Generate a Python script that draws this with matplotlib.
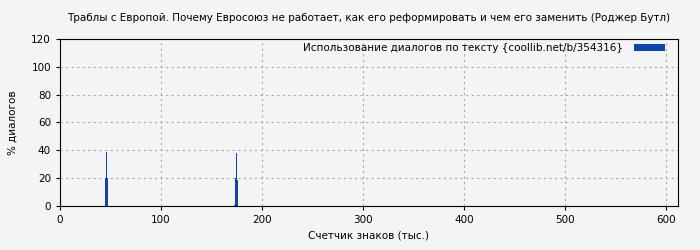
import matplotlib.pyplot as plt

# thousands of characters -> % of dialogue
positions = [45, 46, 47, 172, 173, 174, 175]
values = [20, 39, 20, 1, 20, 38, 19]

title = 'Траблы с Европой. Почему Евросоюз не работает, как его реформировать и чем его заменить (Роджер Бутл)'
label = 'Использование диалогов по тексту {coollib.net/b/354316}'

bg = '#f4f4f4'
fig = plt.figure(figsize=(7, 2.5), dpi=100, facecolor=bg)
ax = fig.add_axes([60 / 700, 44 / 250, 618 / 700, 167 / 250], facecolor=bg)

ax.bar(positions, values, width=1, align='edge', color='#0a46b0', label=label)

ax.set_xlim(0, 612)
ax.set_ylim(0, 120)
ax.set_xticks(range(0, 601, 100))
ax.set_yticks(range(0, 121, 20))
ax.grid(True, color='#aaaaaa', linestyle=(0, (2, 3)), linewidth=0.8)
ax.set_axisbelow(True)
ax.tick_params(labelsize=7.5, length=3, color='black')

ax.set_title(title, fontsize=7.5, pad=13)
ax.set_xlabel('Счетчик знаков (тыс.)', fontsize=7.5)
ax.set_ylabel('% диалогов', fontsize=7.5, labelpad=10)

leg = ax.legend(loc='upper right', bbox_to_anchor=(0.987, 1.008), fontsize=7.5,
                frameon=False, markerfirst=False,
                handlelength=3, handleheight=0.6, handletextpad=1.0,
                borderaxespad=0, borderpad=0.5)

fig.savefig('out.png', dpi=100, facecolor=bg)
